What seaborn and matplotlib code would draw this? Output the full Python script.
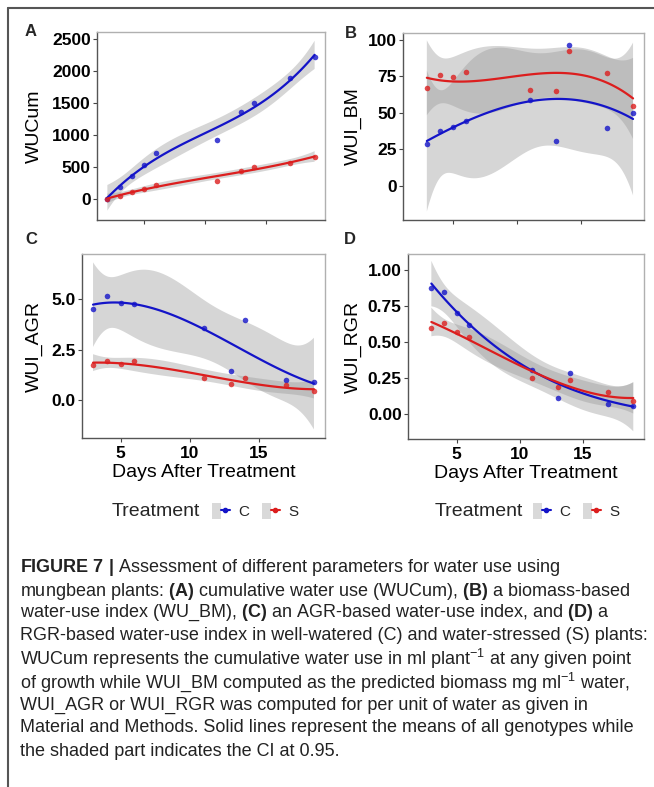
import numpy as np
import pandas as pd
import matplotlib
matplotlib.use("Agg")
import matplotlib.pyplot as plt
from matplotlib.lines import Line2D
from matplotlib.patches import Patch
from matplotlib.legend_handler import HandlerTuple
import seaborn as sns

sns.set_theme(style="white")
plt.rcParams["font.family"] = ["Liberation Sans", "DejaVu Sans"]
plt.rcParams["mathtext.fontset"] = "custom"
plt.rcParams["mathtext.rm"] = "Liberation Sans"
plt.rcParams["mathtext.bf"] = "Liberation Sans:bold"
plt.rcParams["mathtext.it"] = "Liberation Sans:italic"

# ---------------- data ----------------
days_a = [2, 3, 4, 5, 6, 11, 13, 14, 17, 19]
wucum_c = [0, 182, 354, 536, 718, 926, 1364, 1508, 1898, 2220]
wucum_s = [0, 52, 104, 161, 213, 286, 442, 500, 567, 660]

days = [3, 4, 5, 6, 11, 13, 14, 17, 19]
wui_bm_c = [28.8, 37.5, 40.0, 44.0, 58.4, 30.4, 96.3, 39.8, 49.9]
wui_bm_s = [66.8, 76.0, 74.4, 77.8, 65.4, 65.0, 92.4, 76.9, 54.7]
wui_agr_c = [4.48, 5.11, 4.80, 4.74, 3.54, 1.43, 3.97, 1.02, 0.89]
wui_agr_s = [1.75, 1.93, 1.80, 1.92, 1.08, 0.80, 1.11, 0.74, 0.46]
wui_rgr_c = [0.878, 0.85, 0.70, 0.62, 0.307, 0.115, 0.289, 0.069, 0.058]
wui_rgr_s = [0.60, 0.635, 0.57, 0.533, 0.25, 0.19, 0.24, 0.155, 0.092]

treatments = ["C", "S"]
colors = {"C": "#1414c8", "S": "#dc1e1e"}

panels = [
    dict(letter="A", label="WUCum", x=days_a, C=wucum_c, S=wucum_s,
         yticks=[0, 500, 1000, 1500, 2000, 2500], ylim=(-330, 2615), xlim=(1.15, 19.85),
         fmt="{:.0f}", rect=(97, 32, 325, 220), xlabels=False, ylab_x=43, letter_xy=(31, 32)),
    dict(letter="B", label="WUI_BM", x=days, C=wui_bm_c, S=wui_bm_s,
         yticks=[0, 25, 50, 75, 100], ylim=(-23.6, 104.6), xlim=(1.15, 19.85),
         fmt="{:.0f}", rect=(403, 33, 644, 220), xlabels=False, ylab_x=362, letter_xy=(351, 33)),
    dict(letter="C", label="WUI_AGR", x=days, C=wui_agr_c, S=wui_agr_s,
         yticks=[0.0, 2.5, 5.0], ylim=(-1.85, 7.2), xlim=(2.2, 19.8),
         fmt="{:.1f}", rect=(82, 254, 325, 438), xlabels=True, ylab_x=43, letter_xy=(31, 239)),
    dict(letter="D", label="WUI_RGR", x=days, C=wui_rgr_c, S=wui_rgr_s,
         yticks=[0.0, 0.25, 0.5, 0.75, 1.0], ylim=(-0.17, 1.11), xlim=(1.15, 19.85),
         fmt="{:.2f}", rect=(408, 254, 644, 439), xlabels=True, ylab_x=362, letter_xy=(350, 239)),
]

# two-sided 95% t quantiles by residual degrees of freedom
T975 = {3: 3.182, 4: 2.776, 5: 2.571, 6: 2.447, 7: 2.365, 8: 2.306}
ORDER = 3


def poly_band(x, y, order=ORDER, n=200):
    x = np.asarray(x, float)
    y = np.asarray(y, float)
    X = np.vander(x, order + 1)
    beta, *_ = np.linalg.lstsq(X, y, rcond=None)
    resid = y - X @ beta
    dof = len(x) - (order + 1)
    s2 = resid @ resid / dof
    cov = s2 * np.linalg.inv(X.T @ X)
    xg = np.linspace(x.min(), x.max(), n)
    Xg = np.vander(xg, order + 1)
    fit = Xg @ beta
    se = np.sqrt(np.einsum("ij,jk,ik->i", Xg, cov, Xg))
    t = T975[dof]
    return xg, fit - t * se, fit + t * se


W, H = 654, 787
fig = plt.figure(figsize=(W / 100, H / 100), dpi=100)


def fx(px):
    return px / W


def fy(py):
    return 1 - py / H


for p in panels:
    l, t, r, b = p["rect"]
    ax = fig.add_axes([fx(l), fy(b), (r - l) / W, (b - t) / H])
    for tr in treatments:
        xg, lo, hi = poly_band(p["x"], p[tr])
        ax.fill_between(xg, lo, hi, facecolor="#999999", alpha=0.4, edgecolor="none", zorder=1)
    for tr in treatments:
        df = pd.DataFrame({"day": p["x"], "val": p[tr]})
        sns.regplot(data=df, x="day", y="val", order=ORDER, ci=None,
                    ax=ax, color=colors[tr], truncate=True,
                    scatter_kws=dict(s=16, linewidths=0, zorder=3),
                    line_kws=dict(lw=1.6, zorder=4))
    ax.set_xlim(*p["xlim"])
    ax.set_ylim(*p["ylim"])
    ax.set_xticks([5, 10, 15])
    ax.set_yticks(p["yticks"])
    ax.set_yticklabels([p["fmt"].format(v) for v in p["yticks"]],
                       fontsize=12.5, fontweight="bold", color="black")
    if p["xlabels"]:
        ax.set_xticklabels(["5", "10", "15"], fontsize=12.5, fontweight="bold", color="black")
        ax.set_xlabel("Days After Treatment", fontsize=14, color="black", labelpad=2)
    else:
        ax.set_xticklabels([])
        ax.set_xlabel("")
    ax.set_ylabel(p["label"], fontsize=14, color="black")
    ax.yaxis.set_label_coords(fx(p["ylab_x"]), fy((t + b) / 2), transform=fig.transFigure)
    ax.tick_params(axis="y", direction="out", length=3, width=0.8, color="#444444",
                   pad=1.5, left=True)
    ax.tick_params(axis="x", direction="out", length=3, width=0.8, color="#444444",
                   pad=3, bottom=True)
    for side in ["left", "bottom"]:
        ax.spines[side].set_color("#555555")
        ax.spines[side].set_linewidth(1.0)
    for side in ["top", "right"]:
        ax.spines[side].set_color("#b0b0b0")
        ax.spines[side].set_linewidth(1.0)
    ax.set_facecolor("white")
    fig.text(fx(p["letter_xy"][0]), fy(p["letter_xy"][1]), p["letter"],
             fontsize=12, fontweight="bold", ha="center", va="center")


# legends under C and D
def make_legend(title_x, legend_x, y):
    fig.text(fx(title_x), fy(y), "Treatment", fontsize=14, ha="left", va="center")
    handles = [(Patch(facecolor="#d9d9d9", edgecolor="none"),
                Line2D([], [], color=colors[tr], lw=1.5, marker="o", ms=3))
               for tr in treatments]
    fig.legend(handles, treatments, loc="center left",
               bbox_to_anchor=(fx(legend_x), fy(y)), ncol=2, frameon=False,
               fontsize=11, handlelength=1.15, handleheight=1.25, handletextpad=0.6,
               columnspacing=0.8, borderpad=0, borderaxespad=0,
               handler_map={tuple: HandlerTuple(ndivide=None, pad=0)})


make_legend(112, 212, 511)
make_legend(435, 533, 511)

# frame lines
fig.add_artist(Line2D([fx(8), fx(8)], [fy(787), fy(8)], color="#555555", lw=1.5))
fig.add_artist(Line2D([fx(8), fx(654)], [fy(8), fy(8)], color="#555555", lw=1.5))

# caption
caption = [
    r"$\bf{FIGURE\ 7\ |}$ Assessment of different parameters for water use using",
    r"mungbean plants: $\bf{(A)}$ cumulative water use (WUCum), $\bf{(B)}$ a biomass-based",
    r"water-use index (WU_BM), $\bf{(C)}$ an AGR-based water-use index, and $\bf{(D)}$ a",
    "RGR-based water-use index in well-watered (C) and water-stressed (S) plants:",
    r"WUCum represents the cumulative water use in ml plant$^{-1}$ at any given point",
    r"of growth while WUI_BM computed as the predicted biomass mg ml$^{-1}$ water,",
    "WUI_AGR or WUI_RGR was computed for per unit of water as given in",
    "Material and Methods. Solid lines represent the means of all genotypes while",
    "the shaded part indicates the CI at 0.95.",
]
cap_y = [568, 591, 613, 636, 659, 682, 705, 728, 751]

renderer = fig.canvas.get_renderer()
probe = fig.text(0, 0, caption[3], fontsize=12)
wpx = probe.get_window_extent(renderer=renderer).width
probe.remove()
cap_size = 12 * 630 / wpx

for line, yy in zip(caption, cap_y):
    fig.text(fx(20), fy(yy), line, fontsize=cap_size, color="#222222",
             ha="left", va="center")

fig.savefig("out.png", dpi=100)
